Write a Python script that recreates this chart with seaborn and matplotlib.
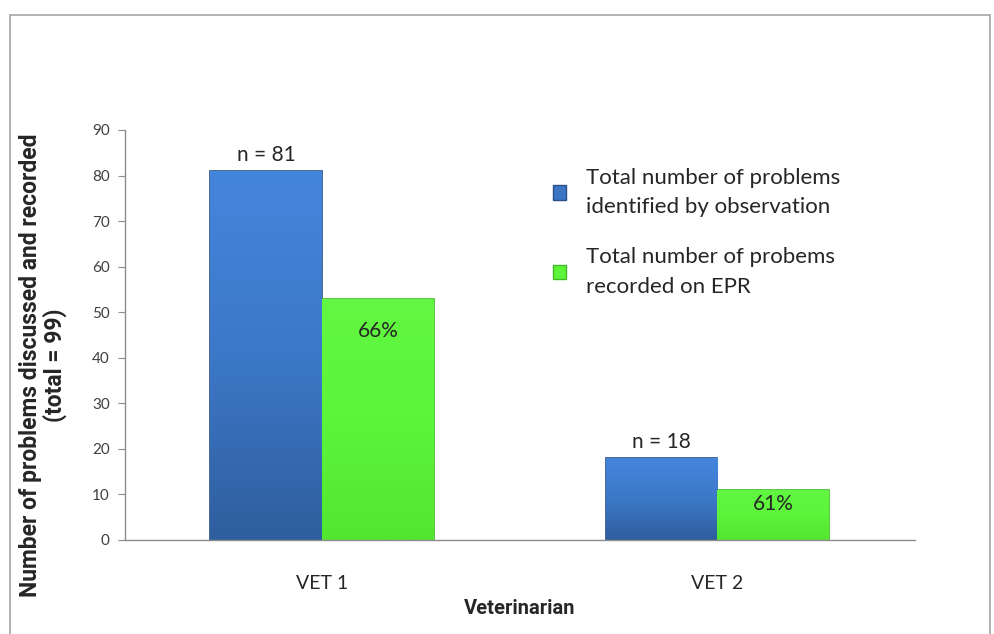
import numpy as np
import pandas as pd
import matplotlib
matplotlib.use("Agg")
import matplotlib.pyplot as plt
import seaborn as sns
from matplotlib.patches import Rectangle
from matplotlib.colors import LinearSegmentedColormap

# Data
vets = ["VET 1", "VET 2"]
identified = [81, 18]
recorded = [53, 11]
pct_labels = ["66%", "61%"]
series_names = ["Total number of problems\nidentified by observation",
                "Total number of probems\nrecorded on EPR"]

df = pd.DataFrame({
    "vet": vets * 2,
    "count": identified + recorded,
    "series": [series_names[0]] * 2 + [series_names[1]] * 2,
})

sns.set_style("white")
plt.rcParams["font.family"] = ["Lato", "DejaVu Sans"]

fig = plt.figure(figsize=(9.95, 6.34), dpi=100)
ax = fig.add_axes([0.1256, 0.1483, 0.794, 0.6467])

palette = {series_names[0]: "#3b76c4", series_names[1]: "#5cf53a"}
sns.barplot(data=df, x="vet", y="count", hue="series", palette=palette,
            width=0.567, saturation=1, ax=ax, legend=True)

# gradient / bevel look
grads = {
    0: LinearSegmentedColormap.from_list("b", ["#2f5e9e", "#3c78c8", "#4485dc"]),
    1: LinearSegmentedColormap.from_list("g", ["#52e630", "#5cf53a", "#62f742"]),
}
edges = {0: "#2a4f85", 1: "#3fb826"}
for ci, cont in enumerate(ax.containers):
    for p in cont:
        x0, y0 = p.get_x(), p.get_y()
        w, h = p.get_width(), p.get_height()
        im = ax.imshow(np.linspace(0, 1, 100).reshape(-1, 1), cmap=grads[ci],
                       extent=[x0, x0 + w, y0, y0 + h], origin="lower",
                       aspect="auto", zorder=p.get_zorder() + 0.1)
        im.set_clip_path(p)
        p.set_edgecolor(edges[ci])
        p.set_linewidth(1.2)

ax.set_xlim(-0.5, 1.5)
ax.set_ylim(0, 90)
ax.set_yticks(range(0, 91, 10))

# n labels above the blue bars
ax.bar_label(ax.containers[0], labels=[f"n = {v}" for v in identified],
             padding=4, fontsize=15)
# percentage labels inside the green bars
offsets = [-32, -14]
for p, lab, off in zip(ax.containers[1], pct_labels, offsets):
    ax.annotate(lab, (p.get_x() + p.get_width() / 2, p.get_height()),
                xytext=(0, off), textcoords="offset pixels",
                ha="center", va="center", fontsize=15, zorder=10)

for s in ["top", "right"]:
    ax.spines[s].set_visible(False)
for s in ["left", "bottom"]:
    ax.spines[s].set_color("#8c8c8c")
    ax.spines[s].set_linewidth(1)

ax.tick_params(axis="y", left=True, length=5, color="#8c8c8c", labelsize=11,
               labelcolor="#404040", pad=6)
ax.tick_params(axis="x", bottom=False, labelsize=14, pad=22)

bold = {"family": ["Roboto", "DejaVu Sans"], "weight": "bold"}
ax.set_xlabel("Veterinarian", fontsize=14.5, labelpad=5, fontdict=bold)
ax.set_ylabel("Number of problems discussed and recorded\n(total = 99)",
              fontsize=16.5, linespacing=1.0, fontdict=bold)
ax.yaxis.set_label_coords(-0.074, 0.427)

leg = ax.legend(loc="upper left", bbox_to_anchor=(0.53, 0.93), frameon=False,
                fontsize=16, labelspacing=1.35, handlelength=0.6, handleheight=0.6,
                handletextpad=0.9, borderaxespad=0)
for t in leg.get_texts():
    t.set_linespacing(1.6)
for h, ci in zip(leg.legend_handles, [0, 1]):
    h.set_edgecolor(edges[ci])

# outer frame
fig.patches.append(Rectangle((0.01, -0.01), 0.985, 0.987, transform=fig.transFigure,
                             fill=False, edgecolor="#a6a6a6", linewidth=1.2))

fig.savefig("out.png", dpi=100)
